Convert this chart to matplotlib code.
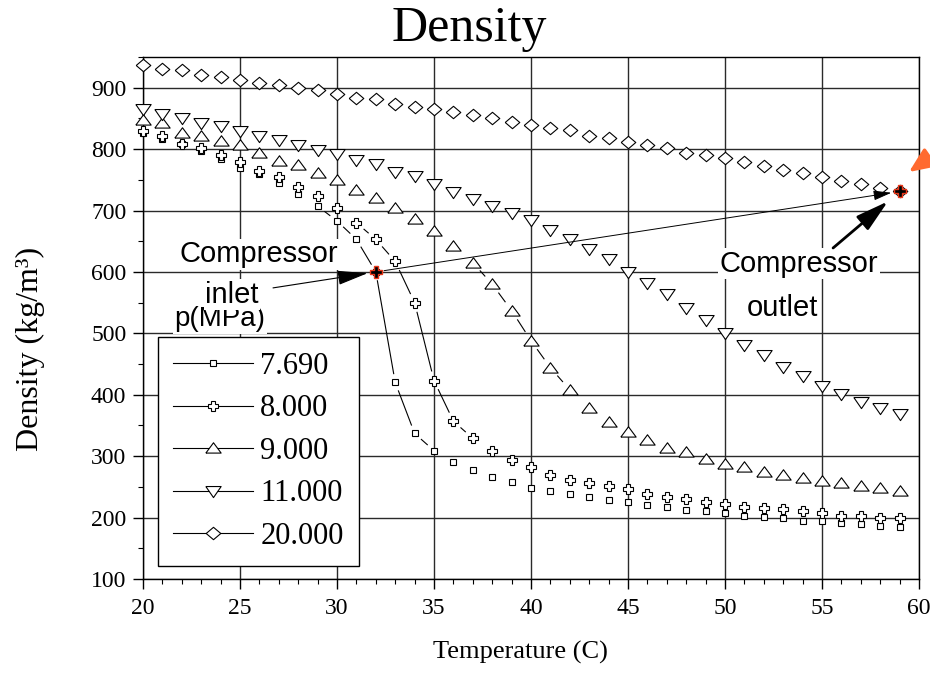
import matplotlib.pyplot as plt
import numpy as np
from matplotlib.lines import Line2D

plt.rcParams['font.family'] = 'Liberation Serif'

# CO2 density along isobars, 1 degree steps
temperature = list(range(20, 60))

rho_7690 = [826, 816, 808, 797, 784, 770, 759, 744, 727, 707,
            683, 653, 600, 420, 337, 309, 290, 278, 266, 258,
            249, 244, 238, 233, 228, 225, 220, 217, 212, 210,
            207, 202, 201, 199, 195, 195, 191, 189, 186, 184]
rho_8000 = [830, 821, 809, 801, 790, 779, 765, 754, 738, 723,
            704, 680, 653, 617, 550, 423, 357, 329, 309, 293,
            282, 270, 262, 257, 251, 246, 238, 233, 230, 225,
            222, 217, 215, 214, 210, 207, 203, 203, 199, 199]
rho_9000 = [848, 842, 827, 821, 813, 806, 793, 781, 774, 761,
            749, 733, 720, 704, 686, 667, 642, 615, 580, 537,
            488, 444, 408, 379, 356, 340, 326, 314, 306, 296,
            288, 282, 275, 270, 264, 259, 256, 251, 248, 243]
rho_11000 = [866, 857, 850, 843, 837, 829, 821, 814, 806, 799,
             792, 783, 775, 763, 756, 743, 730, 718, 707, 696,
             684, 668, 653, 637, 621, 600, 582, 564, 542, 522,
             501, 481, 464, 446, 430, 415, 402, 388, 378, 369]
rho_20000 = [937, 931, 928, 921, 918, 913, 908, 905, 900, 897,
             890, 884, 881, 874, 869, 865, 861, 856, 850, 844,
             839, 834, 831, 822, 818, 811, 806, 801, 794, 790,
             785, 779, 772, 766, 761, 754, 748, 743, 737, 731]

pressure_labels = ['7.690', '8.000', '9.000', '11.000', '20.000']

# compressor inlet / outlet states
inlet_T, inlet_rho = temperature[12], rho_7690[12]
outlet_T, outlet_rho = temperature[39], rho_20000[39]

tri_up = [(-1, -0.6), (1, -0.6), (0, 0.75), (-1, -0.6)]
tri_down = [(-1, 0.65), (1, 0.65), (0, -0.8), (-1, 0.65)]
diamond = [(-1, 0), (0, 0.85), (1, 0), (0, -0.85), (-1, 0)]

series = [
    (rho_7690, 's', 4.5, 9),
    (rho_8000, 'P', 7.5, 10),
    (rho_9000, tri_up, 11, 11),
    (rho_11000, tri_down, 11, 11),
    (rho_20000, diamond, 10.5, 11),
]

fig = plt.figure(figsize=(9.3, 6.75), dpi=100)
ax = fig.add_axes([0.1538, 0.1422, 0.8344, 0.7734])
ax.set_xlim(20, 60)
ax.set_ylim(100, 950)


def gapped_line(ax, x, y, gap):
    # connect points with segments that stop short of each marker
    pts = ax.transData.transform(np.column_stack([x, y]))
    inv = ax.transData.inverted()
    for p0, p1 in zip(pts[:-1], pts[1:]):
        d = p1 - p0
        length = np.hypot(*d)
        if length - 2 * gap < 5:
            continue
        u = d / length
        seg = inv.transform([p0 + u * gap, p1 - u * gap])
        ax.plot(seg[:, 0], seg[:, 1], color='black', lw=0.8, zorder=2)


handles = []
for rho, marker, ms, gap in series:
    gapped_line(ax, temperature, rho, gap)
    ax.plot(temperature, rho, ls='none', marker=marker, ms=ms, mfc='white',
            mec='black', mew=0.8, zorder=3, clip_on=False)
    handles.append(Line2D([], [], color='black', lw=0.8, marker=marker, ms=ms,
                          mfc='white', mec='black', mew=0.8))

# highlighted cycle points
ax.plot([inlet_T, outlet_T], [inlet_rho, outlet_rho], ls='none', marker='P',
        ms=8.5, mfc='black', mec='#e8381a', mew=1.0, zorder=7, clip_on=False)

ax.set_xticks(np.arange(20, 61, 5))
ax.set_xticks(np.arange(20, 61, 1), minor=True)
ax.set_yticks(np.arange(100, 901, 100))
ax.set_yticks(np.arange(100, 951, 50), minor=True)
ax.tick_params(which='major', direction='out', length=7, width=1,
               labelsize=17, pad=5)
ax.tick_params(axis='x', which='major', pad=7)
ax.tick_params(which='minor', direction='out', length=3.5, width=0.8)
ax.grid(True, which='major', color='#2a2a2a', lw=1.0)
ax.set_axisbelow(True)
for sp in ax.spines.values():
    sp.set_color('black')
    sp.set_linewidth(1.0)

leg = ax.legend(handles, pressure_labels, loc='lower left',
                bbox_to_anchor=(0.0193, 0.0249), borderaxespad=0,
                fontsize=22, handlelength=2.6, handletextpad=0.25,
                borderpad=0.5, labelspacing=0.44, fancybox=False,
                framealpha=1, edgecolor='black')
leg.get_frame().set_linewidth(1.0)
leg.set_zorder(4)

sans = 'Liberation Sans'
box = dict(fc='white', ec='none', pad=1)
ax.text(23.97, 523, 'p(MPa)', family=sans, fontsize=20, ha='center',
        va='center', bbox=box, zorder=5)
ax.text(25.98, 629, 'Compressor', family=sans, fontsize=21, ha='center',
        va='center', bbox=box, zorder=5)
ax.text(24.59, 563, 'inlet', family=sans, fontsize=21, ha='center',
        va='center', bbox=box, zorder=5)
ax.text(53.8, 613, 'Compressor', family=sans, fontsize=21, ha='center',
        va='center', bbox=box, zorder=5)
ax.text(52.94, 541, 'outlet', family=sans, fontsize=21, ha='center',
        va='center', bbox=box, zorder=5)

# arrows tying the labels to the two states
ax.annotate('', xy=(inlet_T, inlet_rho), xytext=(26.7, 574),
            arrowprops=dict(arrowstyle='-|>,head_length=1.9,head_width=0.45',
                            mutation_scale=10, lw=0.8, color='black',
                            shrinkA=0, shrinkB=6), zorder=6)
ax.annotate('', xy=(outlet_T, outlet_rho), xytext=(inlet_T, inlet_rho),
            arrowprops=dict(arrowstyle='-|>,head_length=1.1,head_width=0.3',
                            mutation_scale=10, lw=0.7, color='black',
                            shrinkA=6, shrinkB=6), zorder=6)
ax.annotate('', xy=(outlet_T, outlet_rho), xytext=(55.57, 639),
            arrowprops=dict(arrowstyle='-|>,head_length=2.0,head_width=0.55',
                            mutation_scale=10, lw=2.0, color='black',
                            shrinkA=0, shrinkB=11), zorder=6)
ax.annotate('', xy=(909 / 930, 1 - 172 / 675), xycoords='figure fraction',
            xytext=(965 / 930, 1 - 133 / 675), textcoords='figure fraction',
            arrowprops=dict(arrowstyle='-|>,head_length=1.5,head_width=0.65',
                            mutation_scale=10, lw=2.5, color='#ff6a30',
                            shrinkA=0, shrinkB=0),
            annotation_clip=False)

fig.text(0.505, 0.958, 'Density', fontsize=36, ha='center', va='center')
fig.text(0.560, 0.033, 'Temperature (C)', fontsize=19, ha='center', va='center')
fig.text(0.033, 0.483, 'Density (kg/m³)', fontsize=23, rotation=90,
         ha='center', va='center')

fig.savefig('out.png', dpi=100)
